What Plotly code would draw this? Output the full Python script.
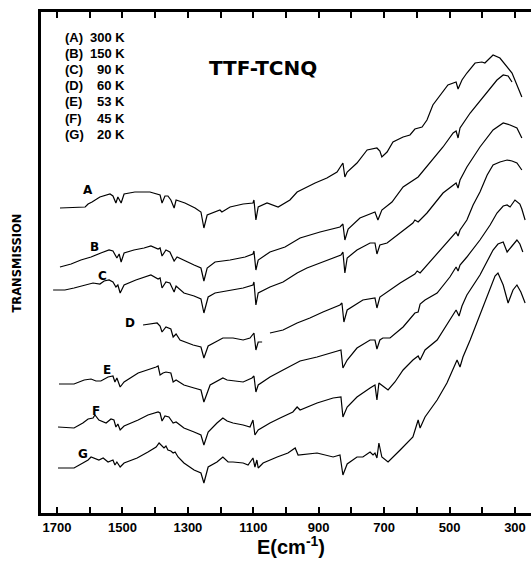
import plotly.graph_objects as go

# Transmission spectra (arbitrary units, vertically offset), x = wavenumber in cm^-1
curve_A = [(1691,305),(1614,306),(1605,309),(1593,311),(1569,316),(1538,319),(1529,317),(1520,310),
           (1514,316),(1504,310),(1495,319),(1462,321),(1416,321),(1385,318),(1379,310),(1370,317),
           (1361,317),(1352,313),(1342,305),(1336,313),(1309,310),(1278,305),(1260,301),(1251,285),
           (1241,298),(1223,300),(1202,303),(1196,301),(1171,306),(1131,309),(1101,310),(1098,313),
           (1092,293),(1085,306),(1058,310),(1024,306),(988,313),(966,321),(936,326),(911,330),
           (875,335),(844,341),(832,347),(826,350),(820,336),(813,341),(783,350),(752,363),
           (722,365),(713,362),(707,356),(691,361),(673,371),(642,376),(621,378),(606,384),
           (584,386),(569,393),(551,408),(529,418),(505,428),(480,431),(474,424),(462,433),
           (447,440),(422,450),(401,451),(392,450),(367,458),(346,455),(324,446),(309,440),
           (294,428),(279,416)]

curve_B = [(1691,246),(1657,249),(1627,253),(1596,256),(1566,260),(1541,263),(1529,262),(1517,255),
           (1510,259),(1504,251),(1495,260),(1465,263),(1434,265),(1413,267),(1391,264),(1385,265),
           (1379,257),(1367,263),(1355,261),(1342,252),(1333,256),(1309,252),(1281,248),(1260,245),
           (1251,232),(1241,245),(1217,251),(1171,253),(1125,256),(1101,259),(1098,262),(1092,243),
           (1085,253),(1049,261),(1003,266),(957,275),(896,281),(835,286),(826,289),(820,273),
           (810,284),(774,295),(728,301),(719,293),(707,303),(676,311),(642,326),(596,336),
           (560,350),(520,366),(489,380),(480,382),(474,375),(468,385),(437,400),(398,416),
           (355,433),(336,438),(321,437),(309,431)]

curve_C = [(1712,223),(1676,223),(1648,225),(1617,228),(1590,230),(1569,229),(1556,232),(1541,233),
           (1529,231),(1520,226),(1514,228),(1507,220),(1495,228),(1459,233),(1434,236),(1413,238),
           (1391,234),(1385,235),(1379,225),(1367,231),(1355,230),(1342,221),(1336,227),(1312,220),
           (1281,217),(1260,214),(1251,200),(1238,216),(1217,220),(1171,223),(1131,225),(1101,228),
           (1098,231),(1092,208),(1085,220),(1049,226),(1009,231),(966,240),(936,245),(896,250),
           (856,255),(832,258),(826,261),(820,240),(813,255),(783,263),(743,270),(728,270),
           (722,259),(713,268),(691,270),(642,283),(612,290),(606,293),(596,291),(569,300),
           (520,320),(480,330),(474,325),(468,333),(447,346),(407,366),(367,383),(336,390),
           (315,388),(294,385),(285,379),(279,375)]

curve_D = [(1437,188),(1413,189),(1394,190),(1385,187),(1379,181),(1367,186),(1352,184),(1345,176),
           (1336,179),(1324,173),(1284,168),(1260,166),(1251,155),(1238,167),(1193,175),(1162,175),
           (1131,173),(1110,175),(1098,180),(1092,163),(1085,171),(1073,171),(None,None),
           (1049,180),(1009,183),(966,190),(927,195),(887,201),(835,208),(829,210),(823,191),
           (813,203),(765,213),(728,215),(722,205),(713,216),(651,230),(606,239),(599,242),
           (590,240),(560,251),(508,270),(480,281),(474,277),(468,283),(447,293),(428,308),
           (407,321),(385,338),(367,348),(346,351),(324,353),(309,352),(294,350),(279,343)]

curve_E = [(1694,129),(1648,129),(1617,133),(1596,134),(1581,132),(1566,132),(1544,136),(1529,137),
           (1523,131),(1517,135),(1507,126),(1495,131),(1452,140),(1422,143),(1397,146),(1391,147),
           (1385,138),(1376,140),(1367,141),(1352,140),(1345,131),(1336,133),(1312,128),(1281,125),
           (1260,123),(1251,111),(1232,128),(1193,135),(1180,133),(1131,131),(1104,135),(1098,137),
           (1092,121),(1085,128),(1049,136),(1009,143),(966,151),(957,152),(905,156),(856,161),
           (832,163),(826,145),(813,153),(783,165),(743,173),(728,173),(722,164),(713,173),
           (704,175),(682,175),(642,186),(606,200),(596,201),(590,209),(575,213),(538,220),
           (499,236),(480,246),(474,242),(468,248),(447,256),(407,273),(376,288),(355,300),
           (336,307),(324,308),(315,306),(300,313),(285,309),(279,304),(269,293)]

curve_F = [(1697,86),(1648,85),(1621,90),(1605,94),(1590,95),(1584,98),(1572,93),(1550,90),
           (1535,94),(1526,93),(1520,86),(1514,89),(1507,83),(1495,87),(1452,93),(1422,98),
           (1391,101),(1385,100),(1379,92),(1370,97),(1358,96),(1345,90),(1336,91),(1312,85),
           (1281,81),(1260,78),(1251,68),(1238,81),(1211,90),(1193,95),(1180,92),(1162,90),
           (1131,88),(1110,86),(1101,93),(1095,78),(1085,83),(1049,90),(1018,95),(979,101),
           (966,106),(957,103),(905,110),(856,115),(832,116),(826,96),(813,106),(783,116),
           (743,125),(728,128),(722,113),(716,130),(704,127),(688,123),(667,131),(642,143),
           (612,153),(596,157),(590,153),(575,163),(538,173),(508,188),(480,203),(471,197),
           (462,207),(447,218),(407,238),(367,263),(352,269),(336,271),(324,261),(309,267),
           (294,273),(285,269),(276,261)]

curve_G = [(1697,45),(1648,45),(1621,50),(1605,53),(1596,56),(1587,55),(1572,53),(1559,55),
           (1544,51),(1529,53),(1523,48),(1517,51),(1507,46),(1495,50),(1455,55),(1422,61),
           (1397,66),(1388,70),(1379,67),(1373,65),(1367,67),(1361,63),(1352,62),(1345,60),
           (1339,61),(1330,56),(1312,50),(1281,43),(1260,40),(1251,30),(1238,46),(1211,51),
           (1193,56),(1177,51),(1162,51),(1131,50),(1116,48),(1101,55),(1095,46),(1089,53),
           (1085,45),(1070,50),(1027,56),(994,60),(972,65),(963,58),(905,60),(856,56),
           (835,58),(826,38),(813,49),(783,56),(765,56),(743,61),(734,58),(728,60),
           (722,55),(716,70),(707,56),(688,51),(651,63),(612,76),(596,93),(590,85),
           (575,96),(538,113),(508,130),(477,153),(468,146),(459,156),(437,173),(407,198),
           (376,223),(361,237),(352,240),(336,228),(321,210),(306,223),(294,228),(282,221),
           (269,210)]

curve_names = ["A", "B", "C", "D", "E", "F", "G"]
legend_ids = ["(A)", "(B)", "(C)", "(D)", "(E)", "(F)", "(G)"]
legend_temps = ["300 K", "150 K", "90 K", "60 K", "53 K", "45 K", "20 K"]
major_ticks = [1700, 1500, 1300, 1100, 900, 700, 500, 300]
major_labels = ["1700", "1500", "1300", "1100", "900", "700", "500", "300"]
minor_ticks = [1600, 1400, 1200, 1000, 800, 600, 400]

curves = [curve_A, curve_B, curve_C, curve_D, curve_E, curve_F, curve_G]

fig = go.Figure()
for name, pts in zip(curve_names, curves):
    xs = [p[0] for p in pts]
    ys = [p[1] for p in pts]
    fig.add_trace(go.Scatter(x=xs, y=ys, mode="lines", name=name,
                             line=dict(color="black", width=1.2),
                             showlegend=False, connectgaps=False, hoverinfo="skip"))

DV = dict(family="DejaVu Sans", color="black", weight="bold")
LS = dict(family="Liberation Sans", color="black", weight="bold")
annotations = []

# curve letters (placed near the start of each trace, data coords)
label_pos = {"A": (1605, 323), "B": (1584, 266), "C": (1562, 237), "D": (1477, 190),
             "E": (1547, 143), "F": (1581, 102), "G": (1621, 59)}
for name in curve_names:
    x, y = label_pos[name]
    annotations.append(dict(x=x, y=y, xref="x", yref="y", text=name, showarrow=False,
                            xanchor="center", yanchor="middle",
                            font=dict(size=12, **DV)))

# temperature key
key_y = [0.950, 0.918, 0.886, 0.853, 0.821, 0.788, 0.755]
for i, (lid, tmp) in enumerate(zip(legend_ids, legend_temps)):
    annotations.append(dict(x=0.045, y=key_y[i], xref="paper", yref="paper", text=lid,
                            showarrow=False, xanchor="left", yanchor="middle",
                            font=dict(size=13, **LS)))
    annotations.append(dict(x=0.176, y=key_y[i], xref="paper", yref="paper", text=tmp,
                            showarrow=False, xanchor="right", yanchor="middle",
                            font=dict(size=13, **LS)))

annotations.append(dict(x=0.453, y=0.888, xref="paper", yref="paper", text="TTF-TCNQ",
                        showarrow=False, xanchor="center", yanchor="middle",
                        font=dict(size=20, **DV)))
annotations.append(dict(x=0.51, y=-0.0945, xref="paper", yref="paper",
                        text="E(cm<sup>-1</sup>)", showarrow=False,
                        xanchor="center", yanchor="bottom",
                        font=dict(size=20, **LS)))
annotations.append(dict(x=-0.049, y=0.50, xref="paper", yref="paper", text="TRANSMISSION",
                        showarrow=False, textangle=-90, xanchor="center", yanchor="middle",
                        font=dict(size=11.5, **DV)))

fig.update_layout(
    width=531, height=561,
    margin=dict(l=41, r=0, t=12, b=48),
    paper_bgcolor="white", plot_bgcolor="white",
    annotations=annotations,
    xaxis=dict(range=[1749, 251], tickmode="array", tickvals=major_ticks, ticktext=major_labels,
               ticks="inside", ticklen=6, tickwidth=1.5, tickcolor="black",
               minor=dict(tickmode="array", tickvals=minor_ticks, ticks="inside", ticklen=6,
                          tickwidth=1.5, tickcolor="black"),
               showline=True, linewidth=3, linecolor="black", mirror="ticks",
               showgrid=False, zeroline=False,
               tickfont=dict(size=13, **LS)),
    yaxis=dict(range=[0, 501], showticklabels=False, ticks="", showline=True,
               linewidth=3, linecolor="black", showgrid=False, zeroline=False, mirror=False),
)

fig.write_html("out.html")
